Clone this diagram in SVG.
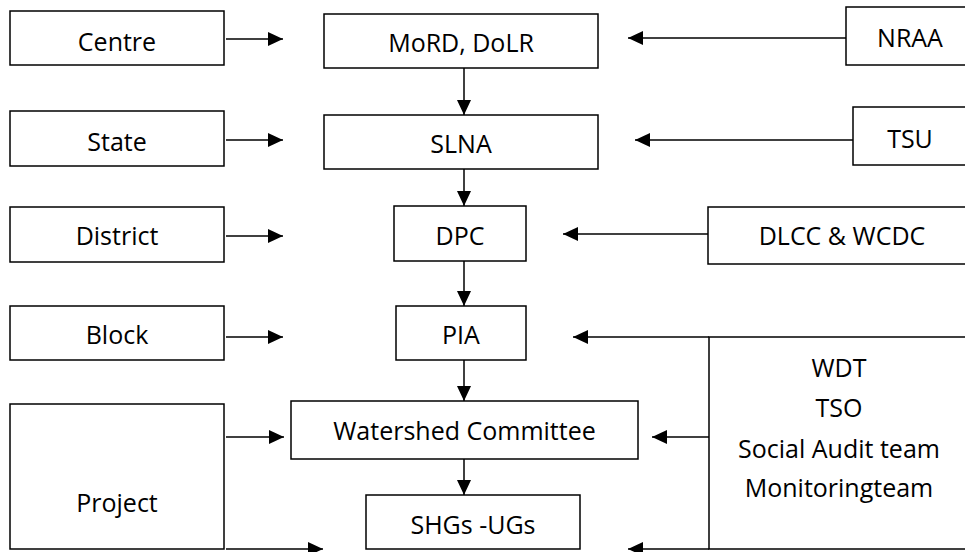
<svg xmlns="http://www.w3.org/2000/svg" width="965" height="552" viewBox="0 0 965 552">
<style>
.box{fill:#fff;stroke:#000;stroke-width:1.5}
.ln{fill:none;stroke:#000;stroke-width:1.5}
text{font-family:"Open Sans","Liberation Sans",sans-serif;font-size:25px;fill:#000;text-anchor:middle}
</style>
<defs>
<marker id="ah" markerUnits="userSpaceOnUse" markerWidth="16" markerHeight="14" refX="15" refY="7" orient="auto">
<path d="M0,0 L15,7 L0,14 Z" fill="#000"/>
</marker>
</defs>
<rect width="965" height="552" fill="#fff"/>
<g id="connectors">
<line class="ln" x1="226" y1="39" x2="283" y2="39" marker-end="url(#ah)"/>
<line class="ln" x1="226" y1="140" x2="283" y2="140" marker-end="url(#ah)"/>
<line class="ln" x1="226" y1="236" x2="283" y2="236" marker-end="url(#ah)"/>
<line class="ln" x1="226" y1="337" x2="283" y2="337" marker-end="url(#ah)"/>
<line class="ln" x1="226" y1="437" x2="284" y2="437" marker-end="url(#ah)"/>
<line class="ln" x1="226" y1="549" x2="323" y2="549" marker-end="url(#ah)"/>
<line class="ln" x1="846" y1="38" x2="628" y2="38" marker-end="url(#ah)"/>
<line class="ln" x1="853" y1="140" x2="635" y2="140" marker-end="url(#ah)"/>
<line class="ln" x1="708" y1="234" x2="563" y2="234" marker-end="url(#ah)"/>
<line class="ln" x1="709" y1="337" x2="573" y2="337" marker-end="url(#ah)"/>
<line class="ln" x1="709" y1="437" x2="652" y2="437" marker-end="url(#ah)"/>
<line class="ln" x1="709" y1="549" x2="628" y2="549" marker-end="url(#ah)"/>
<line class="ln" x1="464" y1="68" x2="464" y2="115" marker-end="url(#ah)"/>
<line class="ln" x1="464" y1="169" x2="464" y2="206" marker-end="url(#ah)"/>
<line class="ln" x1="464" y1="261" x2="464" y2="306" marker-end="url(#ah)"/>
<line class="ln" x1="464" y1="360" x2="464" y2="401" marker-end="url(#ah)"/>
<line class="ln" x1="464" y1="459" x2="464" y2="495" marker-end="url(#ah)"/>
</g>
<g id="centre"><rect class="box" x="10" y="11" width="214" height="54"/><text x="117" y="51">Centre</text></g>
<g id="state"><rect class="box" x="10" y="111" width="214" height="55"/><text x="117" y="151">State</text></g>
<g id="district"><rect class="box" x="10" y="207" width="214" height="55"/><text x="117" y="245">District</text></g>
<g id="block"><rect class="box" x="10" y="306" width="214" height="54"/><text x="117" y="344">Block</text></g>
<g id="project"><rect class="box" x="10" y="404" width="214" height="145"/><text x="117" y="512">Project</text></g>
<g id="mord"><rect class="box" x="324" y="14" width="274" height="54"/><text x="461" y="52">MoRD, DoLR</text></g>
<g id="slna"><rect class="box" x="324" y="115" width="274" height="54"/><text x="461" y="153">SLNA</text></g>
<g id="dpc"><rect class="box" x="394" y="206" width="132" height="55"/><text x="460" y="245">DPC</text></g>
<g id="pia"><rect class="box" x="396" y="306" width="130" height="54"/><text x="461" y="344">PIA</text></g>
<g id="wc"><rect class="box" x="291" y="401" width="347" height="58"/><text x="464.5" y="440">Watershed Committee</text></g>
<g id="shgs"><rect class="box" x="366" y="495" width="214" height="54"/><text x="473" y="534">SHGs -UGs</text></g>
<g id="nraa"><rect class="box" x="846" y="7" width="130" height="58"/><text x="910" y="47">NRAA</text></g>
<g id="tsu"><rect class="box" x="853" y="107" width="120" height="58"/><text x="910" y="148">TSU</text></g>
<g id="dlcc"><rect class="box" x="708" y="207" width="270" height="57"/><text x="842" y="245">DLCC &amp; WCDC</text></g>
<g id="wdt"><rect class="box" x="709" y="337" width="270" height="212"/>
<text x="839" y="377">WDT</text>
<text x="839" y="417">TSO</text>
<text x="839" y="458">Social Audit team</text>
<text x="839" y="497">Monitoringteam</text>
</g>
</svg>
